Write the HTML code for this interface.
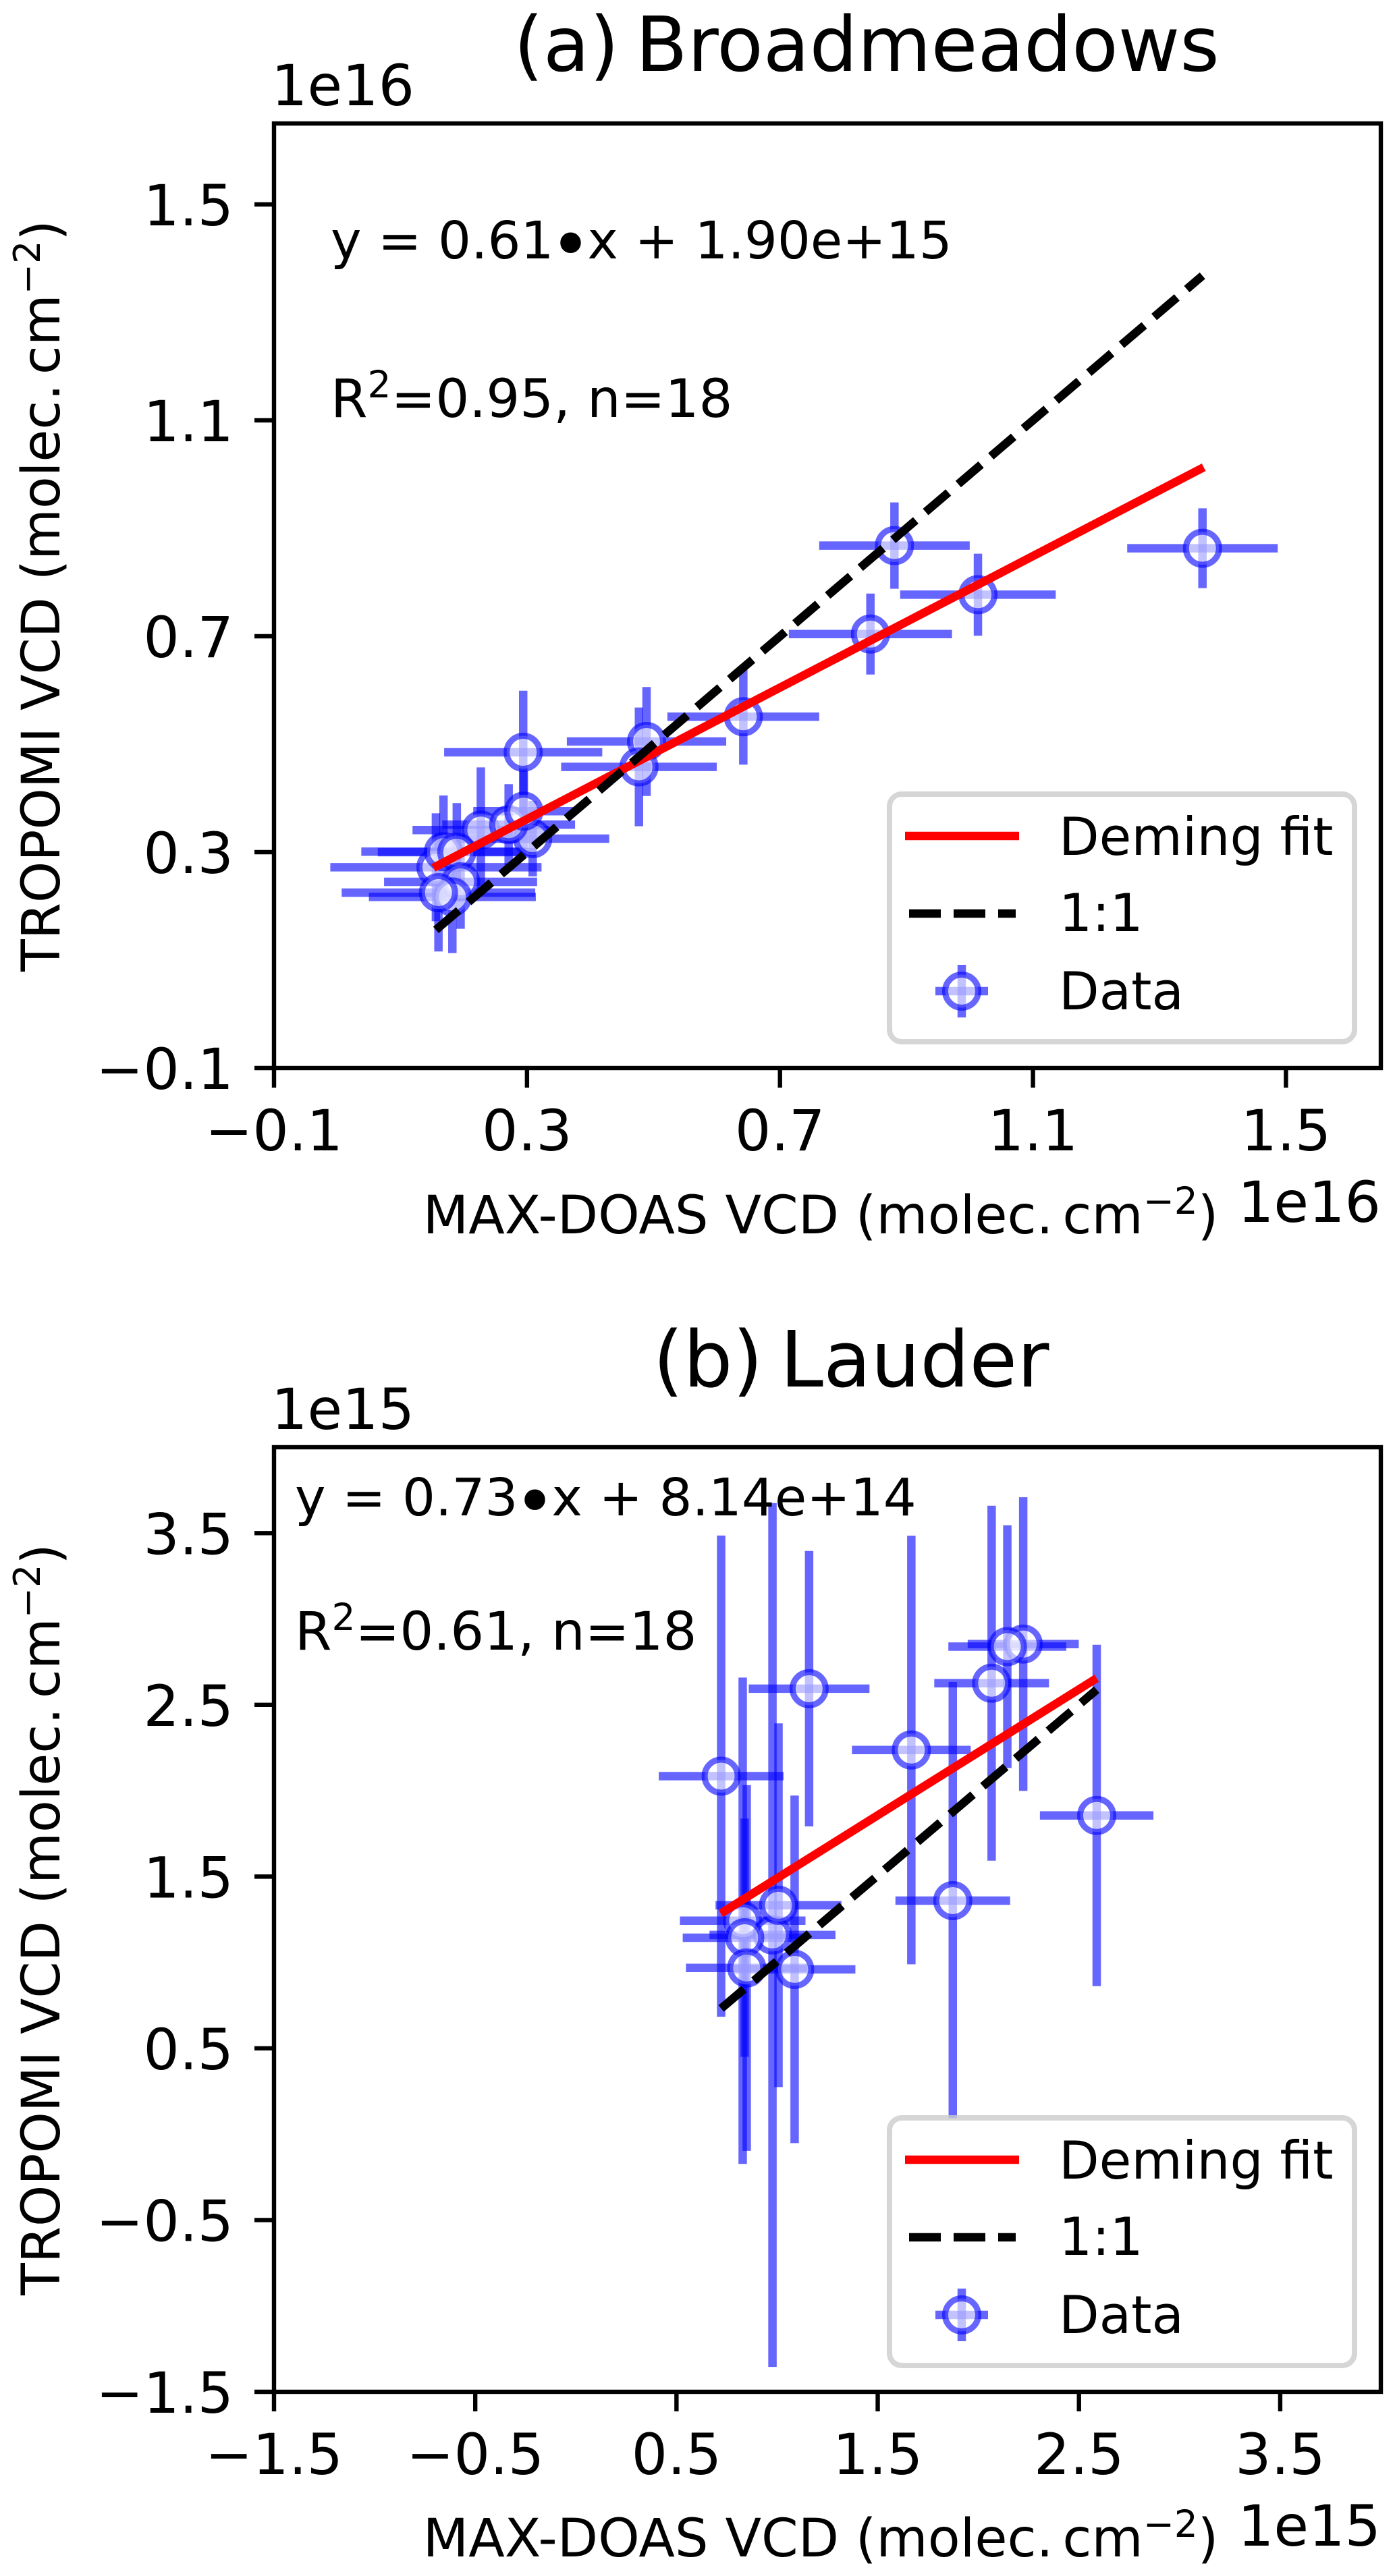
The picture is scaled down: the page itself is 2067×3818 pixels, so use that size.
<!DOCTYPE html>
<html>
<head>
<meta charset="utf-8">
<title>TROPOMI vs MAX-DOAS VCD</title>
<style>
html,body{margin:0;padding:0;background:#fff;}
svg{display:block;}
text{font-family:"DejaVu Sans","Liberation Sans",sans-serif;fill:#000;}
.tk{font-size:84px;}
.lb{font-size:78.3px;}
.lg{font-size:77.5px;}
.yl{font-size:78px;}
.ti{font-size:115px;word-spacing:-11px;}
.an{font-size:77px;}
.st{font-size:78.5px;}
.sm{word-spacing:-11px;}
</style>
</head>
<body>
<svg id="fig" xmlns="http://www.w3.org/2000/svg" width="2067" height="3818" viewBox="0 0 2067 3818">
<rect x="0" y="0" width="2067" height="3818" fill="#fff"/>
<g id="panelA"></g>
<g id="panelB"></g>

<text class="ti" style="font-size:112px" x="1284" y="105" text-anchor="middle">(a) Broadmeadows</text>
<text class="tk" x="402" y="156">1e16</text>
<text class="tk" x="2046" y="1811" text-anchor="end">1e16</text>
<text class="lb" x="1216" y="1828" text-anchor="middle">MAX-DOAS VCD <tspan class="sm">(molec. cm</tspan><tspan dy="-29" font-size="55">−2</tspan><tspan dy="29">)</tspan></text>
<text class="yl" transform="translate(88 883) rotate(-90)" text-anchor="middle">TROPOMI VCD <tspan class="sm">(molec. cm</tspan><tspan dy="-29" font-size="54">−2</tspan><tspan dy="29">)</tspan></text>
<text class="an" x="490" y="383">y = 0.61<tspan font-size="105" dy="16" dx="-6">•</tspan><tspan dy="-16" dx="-6">x + 1.90e+15</tspan></text>
<text class="st" x="490" y="618">R<tspan dy="-29" font-size="55">2</tspan><tspan dy="29">=0.95, n=18</tspan></text>

<text class="ti" x="1261" y="2055" text-anchor="middle">(b) Lauder</text>
<text class="tk" x="402" y="2118">1e15</text>
<text class="tk" x="2046" y="3773" text-anchor="end">1e15</text>
<text class="lb" x="1216" y="3789" text-anchor="middle">MAX-DOAS VCD <tspan class="sm">(molec. cm</tspan><tspan dy="-29" font-size="55">−2</tspan><tspan dy="29">)</tspan></text>
<text class="yl" transform="translate(88 2845) rotate(-90)" text-anchor="middle">TROPOMI VCD <tspan class="sm">(molec. cm</tspan><tspan dy="-29" font-size="54">−2</tspan><tspan dy="29">)</tspan></text>
<text class="an" x="437" y="2246">y = 0.73<tspan font-size="105" dy="16" dx="-6">•</tspan><tspan dy="-16" dx="-6">x + 8.14e+14</tspan></text>
<text class="st" x="437" y="2445">R<tspan dy="-29" font-size="55">2</tspan><tspan dy="29">=0.61, n=18</tspan></text>
</svg>
<script>
/* Panel (a) Broadmeadows: values in units of 1e16 molec/cm2 */
var aTickLabels = ["\u22120.1","0.3","0.7","1.1","1.5"];
var aTickValues = [-0.1,0.3,0.7,1.1,1.5];
var aX    = [1.368,0.881,1.013,0.843,0.642,0.489,0.477,0.294,0.309,0.227,0.271,0.295,0.156,0.168,0.189,0.195,0.182,0.160];
var aY    = [0.863,0.868,0.777,0.704,0.551,0.505,0.458,0.485,0.325,0.341,0.351,0.376,0.272,0.301,0.300,0.245,0.217,0.225];
var aXerr = [0.119,0.119,0.123,0.129,0.120,0.126,0.123,0.125,0.121,0.108,0.105,0.080,0.167,0.130,0.125,0.121,0.132,0.153];
var aYerr = [0.074,0.080,0.076,0.075,0.089,0.101,0.110,0.114,0.070,0.116,0.075,0.075,0.100,0.104,0.091,0.087,0.104,0.109];
var aFitX = [0.152,1.370];
var aFitY = [0.271,1.013];
var aOneX = [0.156,1.368];
var aOneY = [0.156,1.368];

/* Panel (b) Lauder: values in units of 1e15 molec/cm2 */
var bTickLabels = ["\u22121.5","\u22120.5","0.5","1.5","2.5","3.5"];
var bTickValues = [-1.5,-0.5,0.5,1.5,2.5,3.5];
var bX    = [2.223,2.144,2.066,1.159,1.667,0.722,1.873,2.588,0.829,0.977,1.007,0.839,0.849,1.087];
var bY    = [2.854,2.839,2.626,2.594,2.237,2.085,1.360,1.856,1.243,1.160,1.333,1.144,0.968,0.960];
var bXerr = [0.276,0.293,0.285,0.300,0.295,0.310,0.285,0.282,0.312,0.313,0.313,0.308,0.302,0.302];
var bYerr = [0.855,0.707,1.033,0.802,1.248,1.401,1.273,0.994,1.416,2.515,1.059,0.694,1.065,1.012];
var bFitX = [0.720,2.588];
var bFitY = [1.285,2.655];
var bOneX = [0.722,2.588];
var bOneY = [0.732,2.588];

var legendLabels = ["Deming fit","1:1","Data"];

var NS = "http://www.w3.org/2000/svg";
function mk(tag, attrs, parent){
  var el = document.createElementNS(NS, tag);
  for (var k in attrs) el.setAttribute(k, attrs[k]);
  parent.appendChild(el);
  return el;
}
function linear(d0, d1, r0, r1){
  return function(v){ return r0 + (v - d0) * (r1 - r0) / (d1 - d0); };
}

function drawPanel(g, box, sx, sy, X, Y, Xe, Ye, fitX, fitY, oneX, oneY, tickV, tickL, key){
  var i, el;
  // error bars first, markers above them
  for (i = 0; i < X.length; i++){
    el = mk("line",{x1:sx(X[i]-Xe[i]),x2:sx(X[i]+Xe[i]),y1:sy(Y[i]),y2:sy(Y[i]),stroke:"#0000ff","stroke-opacity":0.6,"stroke-width":12.5},g);
    
    
    el = mk("line",{x1:sx(X[i]),x2:sx(X[i]),y1:sy(Y[i]-Ye[i]),y2:sy(Y[i]+Ye[i]),stroke:"#0000ff","stroke-opacity":0.6,"stroke-width":12.5},g);
    
    
  }
  for (i = 0; i < X.length; i++){
    el = mk("circle",{cx:sx(X[i]),cy:sy(Y[i]),r:24.5,fill:"#fff","fill-opacity":0.6,stroke:"#0000ff","stroke-opacity":0.6,"stroke-width":9},g);
    
    
  }
  // fit lines
  el = mk("line",{x1:sx(fitX[0]),y1:sy(fitY[0]),x2:sx(fitX[1]),y2:sy(fitY[1]),stroke:"#ff0000","stroke-width":12.5},g);
  
  
  el = mk("line",{x1:sx(oneX[0]),y1:sy(oneY[0]),x2:sx(oneX[1]),y2:sy(oneY[1]),stroke:"#000","stroke-width":12.5,"stroke-dasharray":"44.4 19.2"},g);
  
  

  // spines
  el = mk("rect",{x:box.l,y:box.t,width:box.r-box.l,height:box.b-box.t,fill:"none",stroke:"#000","stroke-width":6.4},g);
  
  

  // ticks
  for (i = 0; i < tickV.length; i++){
    var px = sx(tickV[i]), py = sy(tickV[i]);
    el = mk("line",{x1:px,x2:px,y1:box.b,y2:box.b+29,stroke:"#000","stroke-width":6.4},g);
    
    
    el = mk("text",{x:px,y:box.b+122,"text-anchor":"middle","class":"tk"},g);
    
    
    el.textContent = tickL[i];
    el = mk("line",{x1:box.l-29,x2:box.l,y1:py,y2:py,stroke:"#000","stroke-width":6.4},g);
    
    
    el = mk("text",{x:346,y:py+31,"text-anchor":"end","class":"tk"},g);
    
    
    el.textContent = tickL[i];
  }

  // legend
  var dy = box.b - 1583;
  var lg = mk("g",{},g);
  
  
  el = mk("rect",{x:1318,y:1177+dy,width:689,height:367,rx:18,ry:18,fill:"#fff","fill-opacity":0.8,stroke:"#cccccc","stroke-opacity":0.8,"stroke-width":8},lg);
  
  
  el = mk("line",{x1:1341,x2:1510,y1:1239+dy,y2:1239+dy,stroke:"#ff0000","stroke-width":12.5},lg);
  
  
  el = mk("line",{x1:1347,x2:1505,y1:1354+dy,y2:1354+dy,stroke:"#000","stroke-width":12.5,"stroke-dasharray":"47 19"},lg);
  
  
  el = mk("line",{x1:1386,x2:1464,y1:1469+dy,y2:1469+dy,stroke:"#0000ff","stroke-opacity":0.6,"stroke-width":12.5},lg);
  
  
  el = mk("line",{x1:1425,x2:1425,y1:1430+dy,y2:1508+dy,stroke:"#0000ff","stroke-opacity":0.6,"stroke-width":12.5},lg);
  
  
  el = mk("circle",{cx:1425,cy:1469+dy,r:24.5,fill:"#fff","fill-opacity":0.6,stroke:"#0000ff","stroke-opacity":0.6,"stroke-width":9},lg);
  
  
  var base = [1267,1380,1496];
  for (i = 0; i < legendLabels.length; i++){
    el = mk("text",{x:1569,y:base[i]+dy,"class":"lg"},lg);
    
    
    el.textContent = legendLabels[i];
  }
}

var boxA = {l:406,r:2046,t:183,b:1583};
var boxB = {l:406,r:2046,t:2145,b:3545};
drawPanel(document.getElementById("panelA"), boxA,
  linear(-0.1,1.65,boxA.l,boxA.r), linear(-0.1,1.65,boxA.b,boxA.t),
  aX,aY,aXerr,aYerr,aFitX,aFitY,aOneX,aOneY,aTickValues,aTickLabels,"broadmeadows");
drawPanel(document.getElementById("panelB"), boxB,
  linear(-1.5,4.0,boxB.l,boxB.r), linear(-1.5,4.0,boxB.b,boxB.t),
  bX,bY,bXerr,bYerr,bFitX,bFitY,bOneX,bOneY,bTickValues,bTickLabels,"lauder");
</script>
</body>
</html>
